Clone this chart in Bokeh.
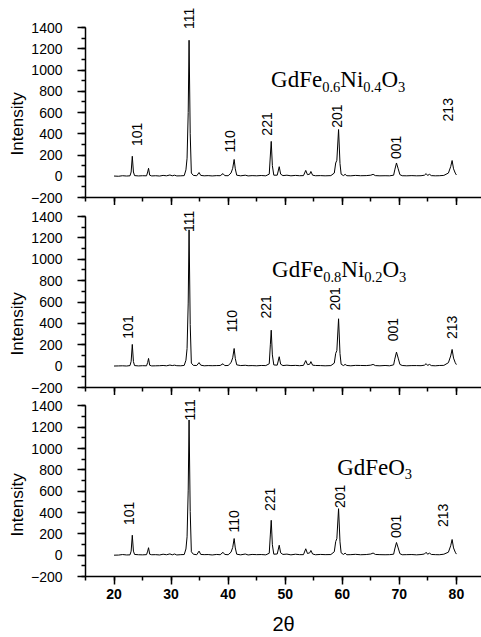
import math
from bokeh.plotting import figure
from bokeh.layouts import column
from bokeh.models import Range1d, SingleIntervalTicker, Title, CustomLabelingPolicy
from bokeh.embed import file_html
from bokeh.resources import INLINE
from bokeh.core.properties import value

# ---------------- data ----------------
two_theta = [20.0, 20.8, 21.5, 22.2, 22.8, 23.0, 23.2, 23.4, 23.6, 24.3,
             25.0, 25.7, 25.9, 26.05, 26.25, 26.6, 27.3, 28.0, 28.6, 29.2,
             29.8, 30.2, 30.6, 31.0, 31.7, 32.3, 32.6, 32.8, 33.0, 33.15,
             33.35, 33.55, 33.9, 34.5, 34.9, 35.2, 35.8, 36.5, 37.2, 38.0,
             38.6, 39.1, 39.4, 40.0, 40.5, 40.8, 41.05, 41.25, 41.5, 42.2,
             43.0, 43.5, 44.2, 45.0, 45.8, 46.6, 47.2, 47.4, 47.55, 47.75,
             48.0, 48.6, 48.95, 49.2, 49.6, 50.3, 51.0, 51.8, 52.5, 53.2,
             53.6, 53.9, 54.3, 54.5, 54.8, 55.3, 56.2, 57.0, 58.0, 58.6,
             58.85, 59.05, 59.35, 59.6, 59.8, 60.2, 60.5, 60.8, 61.5, 62.3,
             63.2, 64.2, 65.0, 65.4, 65.8, 66.6, 67.5, 68.3, 69.0, 69.2,
             69.5, 69.8, 70.1, 70.5, 71.3, 72.2, 73.0, 73.8, 74.4, 74.7,
             74.95, 75.3, 75.6, 76.3, 77.0, 77.8, 78.6, 79.0, 79.25, 79.5,
             79.8, 80.0]

int_ni04 = [2, 0, 5, 2, 4, 40, 188, 40, 6, 3,
            5, 4, 40, 75, 10, 3, 5, 2, 8, 4,
            12, 4, 10, 3, 4, 6, 60, 170, 600, 1280,
            400, 30, 8, 5, 35, 8, 4, 6, 3, 6,
            5, 25, 6, 5, 30, 75, 158, 70, 10, 4,
            10, 3, 6, 4, 7, 4, 20, 200, 328, 100,
            10, 10, 90, 20, 6, 10, 4, 8, 5, 6,
            55, 15, 20, 45, 10, 5, 6, 4, 6, 30,
            125, 150, 440, 120, 20, 6, 18, 5, 4, 8,
            5, 6, 10, 18, 6, 4, 5, 4, 10, 60,
            125, 70, 15, 5, 4, 6, 4, 5, 10, 25,
            8, 18, 6, 4, 5, 8, 30, 90, 148, 70,
            30, 12]

int_ni02 = [1, 2, 3, 1, 5, 45, 203, 42, 5, 2,
            4, 3, 35, 72, 8, 2, 3, 4, 6, 3,
            10, 5, 9, 4, 3, 7, 55, 165, 590, 1275,
            390, 28, 7, 6, 33, 9, 3, 5, 4, 5,
            6, 22, 5, 6, 32, 78, 165, 72, 12, 5,
            8, 4, 5, 3, 6, 5, 22, 205, 336, 105,
            11, 9, 88, 18, 5, 9, 5, 7, 4, 7,
            52, 14, 18, 42, 9, 6, 5, 3, 5, 28,
            120, 145, 443, 118, 18, 5, 16, 6, 3, 7,
            6, 5, 9, 16, 5, 3, 6, 3, 12, 65,
            131, 75, 16, 6, 3, 5, 5, 4, 9, 23,
            7, 16, 5, 3, 6, 7, 32, 95, 156, 75,
            32, 14]

int_ni00 = [0, 1, 6, 2, 3, 38, 187, 38, 7, 4,
            3, 5, 38, 70, 9, 4, 5, 2, 9, 4,
            12, 3, 11, 2, 5, 6, 58, 172, 610, 1268,
            410, 32, 9, 4, 38, 7, 5, 6, 2, 7,
            4, 27, 7, 4, 28, 72, 156, 68, 9, 3,
            11, 2, 7, 5, 6, 3, 18, 198, 327, 98,
            9, 11, 93, 22, 7, 10, 3, 9, 5, 5,
            60, 16, 22, 44, 11, 4, 7, 5, 6, 32,
            128, 155, 436, 125, 22, 7, 19, 4, 5, 8,
            4, 6, 11, 20, 7, 5, 4, 5, 9, 58,
            119, 68, 14, 4, 5, 6, 3, 6, 11, 27,
            9, 19, 7, 5, 4, 9, 28, 88, 147, 68,
            28, 10]

hkl = ["101", "111", "110", "221", "201", "001", "213"]
hkl_x_ni04 = [23.95, 33.2, 40.4, 46.83, 59.1, 69.48, 78.6]
hkl_y_ni04 = [394, 1485, 328, 492, 566, 272, 626]
hkl_x_ni02 = [22.5, 33.2, 40.7, 46.7, 58.8, 68.85, 79.2]
hkl_y_ni02 = [366, 1355, 421, 555, 630, 341, 363]
hkl_x_ni00 = [22.6, 33.4, 41.0, 47.4, 59.55, 69.5, 77.7]
hkl_y_ni00 = [393, 1364, 318, 523, 551, 271, 374]

name_ni04 = [("GdFe", False), ("0.6", True), ("Ni", False), ("0.4", True), ("O", False), ("3", True)]
name_ni02 = [("GdFe", False), ("0.8", True), ("Ni", False), ("0.2", True), ("O", False), ("3", True)]
name_ni00 = [("GdFe", False), ("O", False), ("3", True)]

y_title = "Intensity"
x_title = "2θ"

# ---------------- layout helpers ----------------
TIMES_W = {'G': 0.722, 'd': 0.5, 'F': 0.556, 'e': 0.444, 'N': 0.722, 'i': 0.278,
           'O': 0.722, '.': 0.25}
MAIN_FS, SUB_FS = 23.0, 14.5

HIDE_LABELS = CustomLabelingPolicy(code="""
for (const i of Array.from(indices.ones())) { indices.unset(i) }
return indices
""")


def seg_width(s, fs):
    return sum(TIMES_W.get(c, 0.5) for c in s) * fs


def add_name(p, parts, tx, ty):
    off = 0.0
    for txt, sub in parts:
        fs = SUB_FS if sub else MAIN_FS
        p.text(x=[tx], y=[ty], text=[txt], x_offset=off, y_offset=7 if sub else 0,
               text_font=value("Liberation Serif"), text_font_size=f"{fs}px",
               text_align="left", text_baseline="alphabetic", text_color="black")
        off += seg_width(txt, fs)


def make_panel(ys, lx, ly, parts, tx, ty, ylab_off, height, frame_h, px_per_1600, bottom_labels):
    y_end = -200 + frame_h * 1600.0 / px_per_1600
    bottom = 61 if bottom_labels else 8
    p = figure(width=481, height=height, x_range=Range1d(15, 84.4),
               y_range=Range1d(-200, y_end), output_backend="svg",
               toolbar_location=None, min_border_left=85, min_border_right=0,
               min_border_top=0, min_border_bottom=bottom,
               background_fill_color="white", border_fill_color="white")
    p.outline_line_color = None
    p.xgrid.visible = False
    p.ygrid.visible = False

    p.line(two_theta, ys, line_color="black", line_width=1)
    p.text(x=lx, y=ly, text=hkl, angle=math.pi / 2, text_align="center",
           text_baseline="middle", text_font=value("Liberation Sans"),
           text_font_size="14px", text_color="black")
    add_name(p, parts, tx, ty)

    ya = p.yaxis[0]
    ya.ticker = SingleIntervalTicker(interval=200, num_minor_ticks=2)
    ya.bounds = (-200, 1400)
    ya.major_tick_out = 8
    ya.major_tick_in = 0
    ya.minor_tick_out = 4
    ya.minor_tick_in = 0
    ya.axis_line_width = 1.5
    ya.major_tick_line_width = 1.5
    ya.minor_tick_line_width = 1.5
    ya.major_label_standoff = 15
    ya.major_label_text_font = "Liberation Sans"
    ya.major_label_text_font_size = "14px"
    ya.major_label_text_color = "black"

    xa = p.xaxis[0]
    xa.ticker = SingleIntervalTicker(interval=10, num_minor_ticks=2)
    xa.major_tick_out = 8
    xa.major_tick_in = 0
    xa.minor_tick_out = 4
    xa.minor_tick_in = 0
    xa.axis_line_width = 1.5
    xa.major_tick_line_width = 1.5
    xa.minor_tick_line_width = 1.5
    if bottom_labels:
        xa.major_label_standoff = 4
        xa.major_label_text_font = "Liberation Sans"
        xa.major_label_text_font_size = "14px"
        xa.major_label_text_font_style = "bold"
        xa.major_label_text_color = "black"
        xa.axis_label = x_title
        xa.axis_label_text_font = "Liberation Sans"
        xa.axis_label_text_font_size = "20px"
        xa.axis_label_text_font_style = "normal"
        xa.axis_label_text_color = "black"
        xa.axis_label_standoff = 11
    else:
        xa.major_label_text_font_size = "0px"
        xa.major_label_standoff = 0
        xa.major_label_policy = HIDE_LABELS

    p.add_layout(Title(text=y_title, align="left", offset=ylab_off, standoff=0,
                       vertical_align="middle",
                       text_font="Liberation Sans", text_font_size="17px",
                       text_font_style="normal", text_color="black"), "left")
    return p


p1 = make_panel(int_ni04, hkl_x_ni04, hkl_y_ni04, name_ni04, 47.53, 908, 42,
                205, 197, 170.0, False)
p2 = make_panel(int_ni02, hkl_x_ni02, hkl_y_ni02, name_ni02, 47.7, 903, 32,
                190, 182, 171.0, False)
p3 = make_panel(int_ni00, hkl_x_ni00, hkl_y_ni00, name_ni00, 59.1, 824, 40,
                242, 181, 170.6, True)

layout = column(p1, p2, p3, spacing=0)
open("out.html", "w").write(file_html(layout, INLINE))
